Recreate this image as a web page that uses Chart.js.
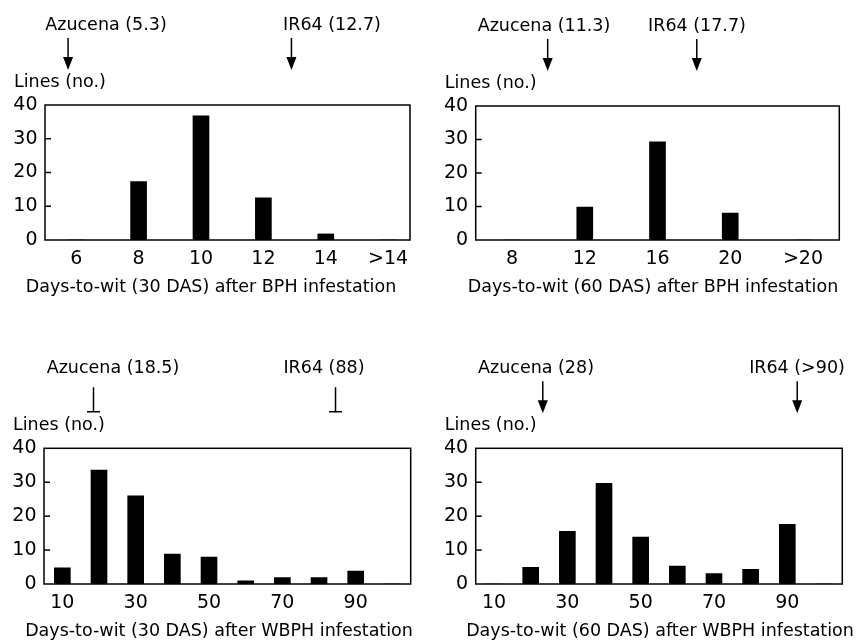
<!DOCTYPE html>
<html lang="en">
<head>
<meta charset="UTF-8">
<title>Days-to-wit after BPH and WBPH infestation</title>
<script src="https://cdn.jsdelivr.net/npm/chart.js"></script>
<style>
  body { margin: 0; background: #fff; }
  canvas { position: absolute; }
</style>
</head>
<body>
<canvas id="bph30" width="430" height="320" style="left:0;top:0"></canvas>
<canvas id="bph60" width="429" height="320" style="left:430px;top:0"></canvas>
<canvas id="wbph30" width="430" height="320" style="left:0;top:320px"></canvas>
<canvas id="wbph60" width="429" height="320" style="left:430px;top:320px"></canvas>

<script>
// BPH, 30 days after sowing
const bph30Categories = ['6', '8', '10', '12', '14', '>14'];
const bph30Lines = [0, 17.3, 36.8, 12.5, 1.8, 0];
const bph30Markers = ['Azucena (5.3)', 'IR64 (12.7)'];
const bph30MarkerAt = [-0.13, 3.45]; // in category steps

// BPH, 60 days after sowing
const bph60Categories = ['8', '12', '16', '20', '>20'];
const bph60Lines = [0, 9.8, 29.3, 8, 0];
const bph60Markers = ['Azucena (11.3)', 'IR64 (17.7)'];
const bph60MarkerAt = [0.49, 2.54];

// WBPH, both sowings share the bins
const wbphCategories = ['10', '20', '30', '40', '50', '60', '70', '80', '90', '100'];
const wbphTickLabels = ['10', '30', '50', '70', '90'];
const wbph30Lines = [4.8, 33.6, 26, 8.8, 7.9, 0.9, 1.9, 1.9, 3.8, 0];
const wbph30Markers = ['Azucena (18.5)', 'IR64 (88)'];
const wbph30MarkerAt = [0.85, 7.45];
const wbph60Lines = [0, 4.9, 15.5, 29.7, 13.8, 5.3, 3.1, 4.3, 17.6, 0];
const wbph60Markers = ['Azucena (28)', 'IR64 (>90)'];
const wbph60MarkerAt = [1.33, 8.27];

const yTicks = [0, 10, 20, 30, 40];

Chart.defaults.font.family = '"DejaVu Sans"';
Chart.defaults.color = '#000';

const panels = [
  { id: 'bph30', w: 430, h: 320, plot: { l: 45, r: 410, t: 105, b: 240 }, xMin: -0.5, xMax: 5.35,
    categories: bph30Categories, tickLabels: bph30Categories, values: bph30Lines,
    markers: bph30Markers, markerAt: bph30MarkerAt, markerTextX: [106, 332], marker: 'arrow',
    title: 'Days-to-wit (30 DAS) after BPH infestation', titleX: 211 },
  { id: 'bph60', w: 429, h: 320, plot: { l: 45.7, r: 409.3, t: 106, b: 240 }, xMin: -0.5, xMax: 4.5,
    categories: bph60Categories, tickLabels: bph60Categories, values: bph60Lines,
    markers: bph60Markers, markerAt: bph60MarkerAt, markerTextX: [114, 267], marker: 'arrow',
    title: 'Days-to-wit (60 DAS) after BPH infestation', titleX: 223 },
  { id: 'wbph30', w: 430, h: 320, plot: { l: 44, r: 410.7, t: 128.3, b: 264 }, xMin: -0.5, xMax: 9.5,
    categories: wbphCategories, tickLabels: wbphTickLabels, values: wbph30Lines,
    markers: wbph30Markers, markerAt: wbph30MarkerAt, markerTextX: [113, 324], marker: 'tee',
    title: 'Days-to-wit (30 DAS) after WBPH infestation', titleX: 219 },
  { id: 'wbph60', w: 429, h: 320, plot: { l: 45.7, r: 412.3, t: 128.3, b: 264 }, xMin: -0.5, xMax: 9.5,
    categories: wbphCategories, tickLabels: wbphTickLabels, values: wbph60Lines,
    markers: wbph60Markers, markerAt: wbph60MarkerAt, markerTextX: [106, 367], marker: 'arrow',
    title: 'Days-to-wit (60 DAS) after WBPH infestation', titleX: 230 }
];

// frame, inward y ticks, "Lines (no.)", x title and the cultivar markers
function framePlugin(p) {
  return {
    id: 'frame',
    afterDraw(chart) {
      const { ctx, chartArea: a, scales: { x, y } } = chart;
      ctx.save();
      ctx.strokeStyle = '#000';
      ctx.fillStyle = '#000';
      ctx.lineWidth = 1.5;
      ctx.strokeRect(a.left, a.top, a.right - a.left, a.bottom - a.top);
      yTicks.slice(1, -1).forEach(v => {
        const py = y.getPixelForValue(v);
        ctx.beginPath();
        ctx.moveTo(a.left, py);
        ctx.lineTo(a.left + 6, py);
        ctx.stroke();
      });

      ctx.font = '17.5px "DejaVu Sans"';
      ctx.textBaseline = 'middle';
      ctx.textAlign = 'left';
      ctx.fillText('Lines (no.)', a.left - 31, a.top - 23);
      ctx.textAlign = 'center';
      ctx.fillText(p.title, p.titleX, a.bottom + 47.5);

      p.markers.forEach((label, i) => {
        ctx.fillText(label, p.markerTextX[i], a.top - 80);
        const px = x.getPixelForValue(p.markerAt[i]);
        ctx.beginPath();
        if (p.marker === 'tee') {
          const t = a.top - 61, b = a.top - 36.5;
          ctx.moveTo(px, t);
          ctx.lineTo(px, b);
          ctx.moveTo(px - 6.5, b);
          ctx.lineTo(px + 6.5, b);
          ctx.stroke();
        } else {
          const t = a.top - 67, tip = a.top - 35;
          ctx.moveTo(px, t);
          ctx.lineTo(px, tip - 10);
          ctx.stroke();
          ctx.beginPath();
          ctx.moveTo(px - 5, tip - 13);
          ctx.lineTo(px + 5, tip - 13);
          ctx.lineTo(px, tip);
          ctx.closePath();
          ctx.fill();
        }
      });
      ctx.restore();
    }
  };
}

panels.forEach(p => {
  new Chart(document.getElementById(p.id), {
    type: 'bar',
    data: {
      datasets: [{
        data: p.values.map((v, i) => ({ x: i, y: v })),
        backgroundColor: '#000',
        barThickness: 16
      }]
    },
    options: {
      responsive: false,
      animation: false,
      layout: { padding: { top: p.plot.t, right: p.w - p.plot.r, left: 0, bottom: 0 } },
      plugins: { legend: { display: false }, tooltip: { enabled: false } },
      scales: {
        x: {
          type: 'linear',
          offset: false,
          min: p.xMin,
          max: p.xMax,
          grid: { display: false, drawTicks: false },
          border: { display: false },
          afterBuildTicks: s => { s.ticks = p.tickLabels.map(l => ({ value: p.categories.indexOf(l) })); },
          afterFit: s => { s.height = p.h - p.plot.b; },
          ticks: {
            autoSkip: false,
            maxRotation: 0,
            padding: 7.5,
            font: { size: 19 },
            callback: v => p.categories[v]
          }
        },
        y: {
          min: 0,
          max: 40,
          grid: { display: false, drawTicks: false },
          border: { display: false },
          afterBuildTicks: s => { s.ticks = yTicks.map(v => ({ value: v })); },
          afterFit: s => { s.width = p.plot.l; },
          ticks: { padding: 7.5, font: { size: 19 } }
        }
      }
    },
    plugins: [framePlugin(p)]
  });
});
</script>
</body>
</html>
